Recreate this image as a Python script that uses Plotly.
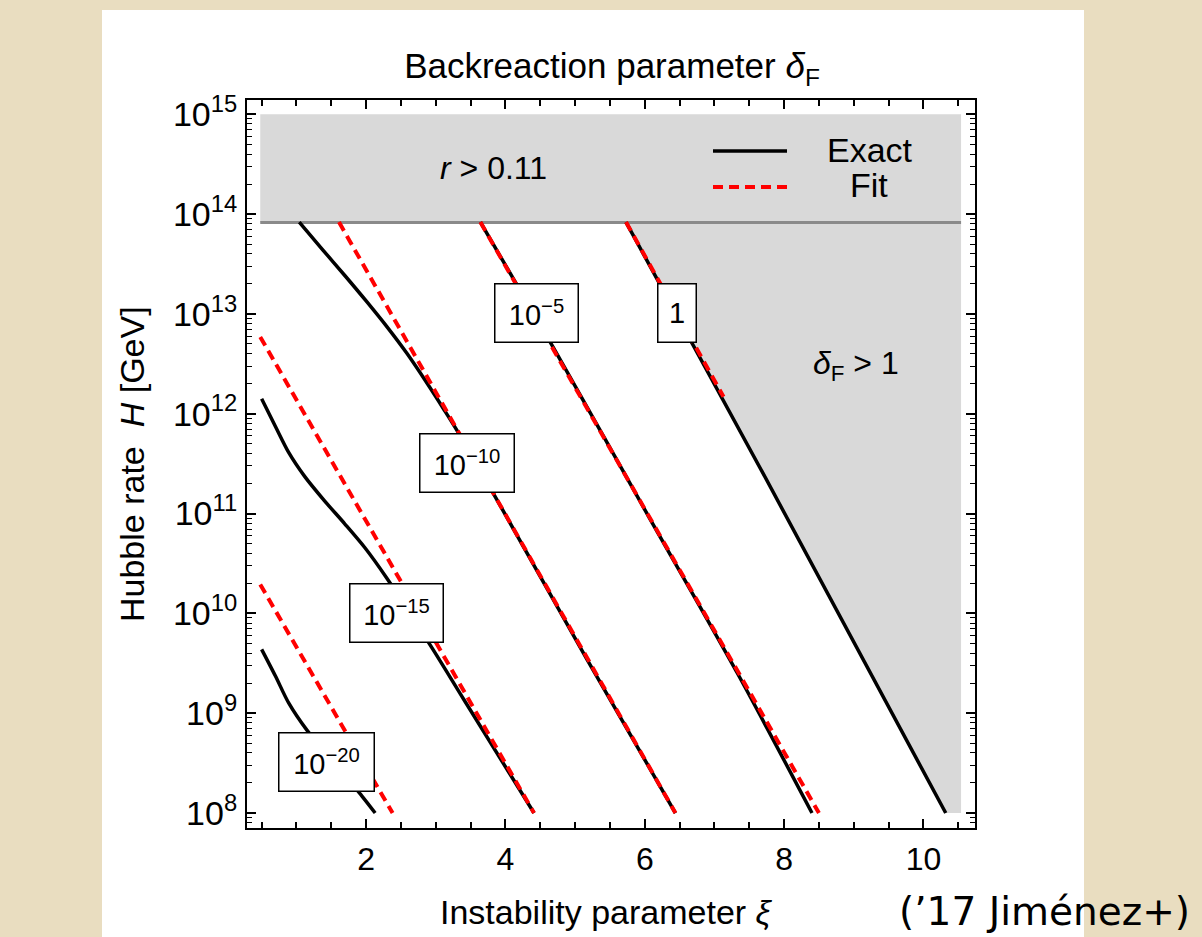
import plotly.graph_objects as go

# ---------------------------------------------------------------
# Contours of the backreaction parameter delta_F in the (xi, H) plane
# ---------------------------------------------------------------

# exact contours: instability parameter xi vs log10(H / GeV)
xi_exact_1 = [5.73, 7.70, 10.32]
logH_exact_1 = [13.92, 11.40, 8.0]

xi_exact_m5 = [3.64, 4.69, 6.08, 7.33, 8.40]
logH_exact_m5 = [13.92, 12.66, 10.94, 9.40, 8.0]

xi_exact_m10 = [1.04, 1.38, 1.70, 2.00, 2.30, 2.59, 2.88, 3.11, 3.28, 3.86, 5.17, 6.44]
logH_exact_m10 = [13.92, 13.64, 13.38, 13.13, 12.87, 12.60, 12.30, 12.05, 11.86, 11.16, 9.54, 8.0]

xi_exact_m15 = [0.50, 0.70, 0.89, 1.12, 1.40, 1.69, 1.98, 2.30, 2.95, 3.40, 4.41]
logH_exact_m15 = [12.15, 11.87, 11.61, 11.37, 11.13, 10.90, 10.66, 10.35, 9.65, 9.14, 8.0]

xi_exact_m20 = [0.50, 0.70, 0.89, 1.15, 1.94, 2.13]
logH_exact_m20 = [9.64, 9.37, 9.10, 8.83, 8.17, 8.0]

# fitted contours (straight in log H)
xi_fit_1 = [5.73, 7.13]
logH_fit_1 = [13.92, 12.17]

xi_fit_m5 = [3.64, 8.50]
logH_fit_m5 = [13.92, 8.0]

xi_fit_m10 = [1.61, 6.44]
logH_fit_m10 = [13.92, 8.0]

xi_fit_m15 = [0.48, 4.41]
logH_fit_m15 = [12.77, 8.0]

xi_fit_m20 = [0.48, 2.38]
logH_fit_m20 = [10.29, 8.0]

# excluded regions
xi_min, xi_max = 0.48, 10.54
logH_tensor = 13.915       # r > 0.11 bound
logH_top = 15.0
logH_bottom = 8.0

# contour labels
contour_labels = ["1", "10<sup>−5</sup>", "10<sup>−10</sup>", "10<sup>−15</sup>", "10<sup>−20</sup>"]
label_xi = [6.46, 4.445, 3.447, 2.435, 1.433]
label_logH = [13.01, 13.005, 11.503, 10.006, 8.507]

# axis ticks
y_tick_exp = [8, 9, 10, 11, 12, 13, 14, 15]
y_tick_text = ["10<sup>%d</sup>" % e for e in y_tick_exp]
x_tick_vals = [2, 4, 6, 8, 10]
x_tick_text = ["2", "4", "6", "8", "10"]

# ---------------------------------------------------------------
W, H = 1202, 937
L, R, T, B = 247, 227, 100, 109
PW, PH = W - L - R, H - T - B
FONT = "Liberation Sans, Arial, Helvetica, sans-serif"


def px(xp):
    return (xp - L) / PW


def py(yp):
    return (H - B - yp) / PH


def tenpow(vals):
    return [10 ** v for v in vals]


def paper_text(xp, yp, text, size, family=FONT, angle=0):
    return dict(x=px(xp), y=py(yp), xref="paper", yref="paper",
                xanchor="center", yanchor="middle", text=text,
                showarrow=False, textangle=angle,
                font=dict(family=family, size=size, color="black"))


fig = go.Figure()

# r > 0.11 band
fig.add_trace(go.Scatter(
    x=[xi_min, xi_max, xi_max, xi_min],
    y=tenpow([logH_tensor, logH_tensor, logH_top, logH_top]),
    mode="lines", fill="toself", fillcolor="#d9d9d9",
    line=dict(width=0, color="#d9d9d9"), hoverinfo="skip"))

# delta_F > 1 region, bounded by the exact delta_F = 1 contour
fig.add_trace(go.Scatter(
    x=xi_exact_1 + [xi_max, xi_max],
    y=tenpow(logH_exact_1 + [logH_bottom, logH_tensor]),
    mode="lines", fill="toself", fillcolor="#d9d9d9",
    line=dict(width=0, color="#d9d9d9"), hoverinfo="skip"))

# edge of the r > 0.11 band
fig.add_trace(go.Scatter(
    x=[xi_min, xi_max], y=tenpow([logH_tensor, logH_tensor]),
    mode="lines", line=dict(color="#8a8a8a", width=3), hoverinfo="skip"))

exact = [(xi_exact_1, logH_exact_1), (xi_exact_m5, logH_exact_m5),
         (xi_exact_m10, logH_exact_m10), (xi_exact_m15, logH_exact_m15),
         (xi_exact_m20, logH_exact_m20)]
fits = [(xi_fit_1, logH_fit_1), (xi_fit_m5, logH_fit_m5),
        (xi_fit_m10, logH_fit_m10), (xi_fit_m15, logH_fit_m15),
        (xi_fit_m20, logH_fit_m20)]

for xs, ls in exact:
    fig.add_trace(go.Scatter(
        x=xs, y=tenpow(ls), mode="lines",
        line=dict(color="black", width=3.5, shape="spline", smoothing=0.8),
        hoverinfo="skip"))

for xs, ls in fits:
    fig.add_trace(go.Scatter(
        x=xs, y=tenpow(ls), mode="lines",
        line=dict(color="#ff0000", width=4, dash="10px,6px"),
        hoverinfo="skip"))

annotations = []
box_w = [37, 82, 93, 92, 94]
for text, xv, lv, bw in zip(contour_labels, label_xi, label_logH, box_w):
    annotations.append(dict(
        x=xv, y=lv, xref="x", yref="y", xanchor="center", yanchor="middle",
        text=text, showarrow=False,
        font=dict(family=FONT, size=29, color="black"),
        bgcolor="white", bordercolor="black", borderwidth=1.5, borderpad=0,
        width=bw, height=57, align="center", valign="middle"))

# region labels
annotations.append(paper_text(493, 168, "<i>r</i> > 0.11", 32))
annotations.append(paper_text(856, 365, "<i>δ</i><sub>F</sub> > 1", 32))

# legend entries
annotations.append(paper_text(870, 150, "Exact", 34))
annotations.append(paper_text(869, 185, "Fit", 34))

# axis titles
annotations.append(paper_text(606, 912, "Instability parameter <i>ξ</i>", 34))
annotations.append(paper_text(132, 464, "Hubble rate  <i>H</i> [GeV]", 34, angle=-90))

# citation
annotations.append(paper_text(1044, 911, "(’17 Jiménez+)", 39,
                              family="DejaVu Sans, sans-serif"))

shapes = [
    # white panel behind the chart
    dict(type="rect", xref="paper", yref="paper", layer="below",
         x0=px(102), x1=px(1084), y0=py(940), y1=py(10),
         fillcolor="white", line=dict(width=0)),
    # legend samples
    dict(type="line", xref="paper", yref="paper",
         x0=px(713), x1=px(787), y0=py(151), y1=py(151),
         line=dict(color="black", width=3.5)),
    dict(type="line", xref="paper", yref="paper",
         x0=px(713), x1=px(787), y0=py(187), y1=py(187),
         line=dict(color="#ff0000", width=4, dash="10px,6px")),
]

fig.update_layout(
    width=W, height=H,
    margin=dict(l=L, r=R, t=T, b=B, pad=0),
    paper_bgcolor="#e9ddc0",
    plot_bgcolor="white",
    showlegend=False,
    font=dict(family=FONT, color="black"),
    title=dict(text="Backreaction parameter <i>δ</i><sub>F</sub>",
               x=612 / W, y=1 - 66 / H, xanchor="center", yanchor="middle",
               font=dict(family=FONT, size=35, color="black")),
    annotations=annotations,
    shapes=shapes,
)

fig.update_xaxes(
    range=[0.29, 10.74], showgrid=False, zeroline=False,
    showline=True, linecolor="black", linewidth=2, mirror="allticks",
    ticks="inside", ticklen=9, tickwidth=1.5, tickcolor="black",
    tickvals=x_tick_vals, ticktext=x_tick_text,
    tickfont=dict(family=FONT, size=32, color="black"),
    ticklabelstandoff=2,
    minor=dict(ticks="inside", ticklen=6, tickwidth=1.5, tickcolor="black",
               tick0=0, dtick=0.5, showgrid=False),
)

minor_y = [k * 10 ** e for e in range(7, 16) for k in range(2, 10)]
fig.update_yaxes(
    type="log", range=[7.85, 15.143], showgrid=False, zeroline=False,
    showline=True, linecolor="black", linewidth=2, mirror="allticks",
    ticks="inside", ticklen=9, tickwidth=1.5, tickcolor="black",
    tickvals=tenpow(y_tick_exp), ticktext=y_tick_text,
    tickfont=dict(family=FONT, size=34, color="black"),
    ticklabelstandoff=1,
    minor=dict(ticks="inside", ticklen=5, tickwidth=1.2, tickcolor="black",
               tickvals=minor_y, showgrid=False),
)

fig.write_html("out.html")
